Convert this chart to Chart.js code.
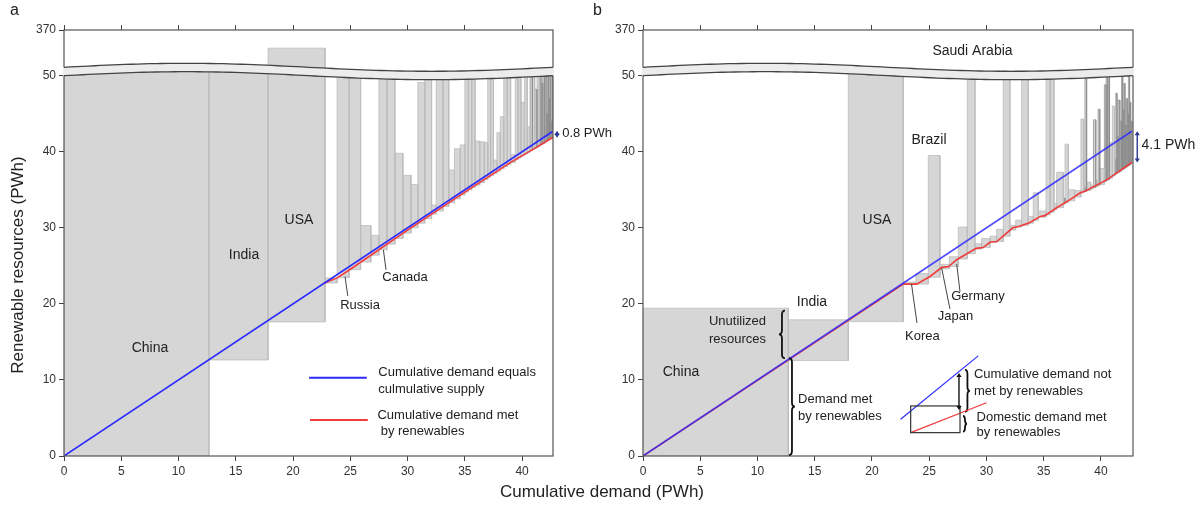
<!DOCTYPE html>
<html>
<head>
<meta charset="utf-8">
<script src="https://cdn.jsdelivr.net/npm/chart.js@4.4.1/dist/chart.umd.min.js"></script>
<style>
  body { margin: 0; background: #fff; width: 1204px; height: 505px; position: relative; overflow: hidden;
         font-family: Arial, "Liberation Sans", Helvetica, sans-serif; }
  .wrap { position: absolute; top: 0; height: 505px; }
  #wa { left: 0; width: 620px; }
  #wb { left: 600px; width: 604px; }
  .lbl { position: absolute; color: #222; white-space: nowrap; }
</style>
</head>
<body>
<div class="wrap" id="wa"><canvas id="chartA"></canvas></div>
<div class="wrap" id="wb"><canvas id="chartB"></canvas></div>
<div class="lbl" style="left:10px;top:1px;font-size:16px">a</div>
<div class="lbl" style="left:593px;top:1px;font-size:16px">b</div>
<div class="lbl" style="left:0;width:1204px;top:482px;text-align:center;font-size:17px">Cumulative demand (PWh)</div>

<script>
const FONT = 'Arial, "Liberation Sans", Helvetica, sans-serif';
const Y_MAX = 50.55;          // main panel top, the break sits just above 50
const TOP_MIN = 50, TOP_MAX = 370;
const BLUE = '#2b2bff', RED = '#f03c3c', ARROW = '#2b3990';

// ---------- panel a ----------
const aXMax = 42.7;
const aEdges = [0, 12.66, 17.82, 22.8, 23.85, 24.9, 25.9, 26.8, 27.5, 28.2, 28.9, 29.6, 30.3, 30.9, 31.5, 32.1,
  32.5, 33.1, 33.6, 34.1, 34.6, 35.0, 35.3, 35.6, 35.9, 36.3, 36.7, 37.0, 37.25, 37.5, 37.8, 38.1, 38.4, 38.7,
  39.0, 39.4, 39.65, 39.9, 40.2, 40.45, 40.7, 40.9, 41.1, 41.3, 41.5, 41.65, 41.8, 41.95, 42.1, 42.2, 42.3,
  42.4, 42.5, 42.6, 42.7];
const aBottoms = [0, 12.63, 17.63, 22.75, 23.45, 24.5, 25.5, 26.4, 27.1, 27.85, 28.6, 29.3, 30.0, 30.6, 31.2,
  31.8, 32.2, 32.8, 33.3, 33.8, 34.3, 34.7, 35.0, 35.3, 35.6, 35.95, 36.35, 36.65, 36.9, 37.15, 37.45, 37.75,
  38.05, 38.3, 38.6, 38.95, 39.2, 39.45, 39.7, 39.95, 40.15, 40.3, 40.5, 40.65, 40.85, 40.95, 41.1, 41.25,
  41.4, 41.5, 41.55, 41.65, 41.75, 41.85];
const aTops = [52, 52, 230, 23.4, 52, 52, 30.3, 29.0, 52, 52, 39.8, 36.9, 35.7, 49.1, 52, 33.0, 52, 52, 37.6,
  40.4, 40.9, 52, 52, 52, 41.4, 41.3, 41.2, 52, 52, 38.9, 42.5, 44.6, 52, 52, 39.6, 52, 52, 46.5, 52, 43.3,
  52, 52, 48.2, 52, 52, 49, 52, 52, 45, 52, 47, 52, 44, 52];
const aBlueX = [0, 42.7];
const aBlueY = [0, 42.7];
const aRedX = [22.7, 23.9, 25, 30, 35, 39, 41, 42.7];
const aRedY = [22.7, 23.45, 24.55, 29.7, 34.7, 38.6, 40.35, 41.9];

// ---------- panel b ----------
const bXMax = 42.8;
const bEdges = [0, 12.69, 17.93, 22.73, 23.84, 24.92, 25.94, 26.75, 27.54, 28.33, 29.0, 29.58, 30.31, 30.89,
  31.47, 32.05, 32.55, 33.07, 33.65, 34.09, 34.53, 35.2, 35.55, 35.9, 36.13, 36.71, 36.86, 37.15, 37.7, 38.25,
  38.5, 38.6, 38.75, 39.1, 39.35, 39.55, 39.75, 39.9, 40.3, 40.45, 40.6, 40.75, 41.0, 41.2, 41.3, 41.4, 41.5,
  41.65, 41.8, 41.9, 42.0, 42.1, 42.2, 42.3, 42.4, 42.5, 42.6, 42.7];
const bBottoms = [0, 12.54, 17.67, 22.6, 22.6, 23.5, 24.6, 24.9, 25.9, 26.6, 27.2, 27.4, 28.1, 28.2, 28.9, 29.7,
  30.1, 30.3, 30.6, 31.0, 31.4, 31.7, 32.05, 32.4, 32.65, 33.15, 33.3, 33.55, 34.05, 34.6, 34.75, 34.8, 34.9,
  35.1, 35.3, 35.45, 35.6, 35.7, 36.1, 36.25, 36.35, 36.5, 36.8, 37.0, 37.1, 37.2, 37.3, 37.45, 37.6, 37.7,
  37.8, 37.9, 38.0, 38.1, 38.2, 38.3, 38.45];
const bTops = [19.43, 17.9, 52, 22.85, 24.0, 39.5, 25.2, 26.2, 30.1, 52, 27.9, 28.6, 28.9, 29.8, 52, 30.3, 31.0,
  52, 31.5, 34.6, 32.2, 52, 52, 33.2, 37.3, 33.9, 41.0, 35.0, 34.9, 44.3, 35.3, 52, 36.0, 35.6, 44.2, 36.2,
  45.6, 37.8, 48.8, 52, 52, 41.2, 46.0, 39.0, 47.7, 42.0, 46.8, 44.0, 52, 45.5, 49.0, 43.5, 47.0, 45.0, 50.5,
  46.5, 44.0];
const bBlueX = [0, 42.7];
const bBlueY = [0, 42.7];
const bRedX = [0, 22.73, 23.9, 25.07, 26.1, 26.7, 27.4, 29.1, 29.7, 30.3, 30.9, 32.3, 32.9, 33.8, 34.7, 35.1,
  36.1, 37.3, 38.2, 38.6, 40.5, 42.7];
const bRedY = [0, 22.6, 22.6, 23.6, 24.8, 24.9, 25.8, 27.3, 27.4, 28.1, 28.2, 30.0, 30.2, 30.7, 31.5, 31.6,
  32.6, 33.7, 34.6, 34.8, 36.3, 38.6];

// ---------- helpers ----------
function rect(x0, x1, b, t) {
  return [{x: x0, y: b}, {x: x0, y: t}, {x: x1, y: t}, {x: x1, y: b}, {x: x0, y: b}];
}

function barSets(edges, bottoms, tops) {
  const out = [];
  for (let i = 0; i < tops.length; i++) {
    // narrow bars get a darker edge, like the dense strip on the right of the original
    const narrow = edges[i + 1] - edges[i] < 0.2;
    const style = {type: 'line', fill: 'shape', backgroundColor: '#d6d6d6',
                   borderColor: narrow ? '#8c8c8c' : '#bcbcbc',
                   borderWidth: narrow ? 0.7 : 0.8, pointRadius: 0, tension: 0};
    out.push(Object.assign({yAxisID: 'y', data: rect(edges[i], edges[i + 1], bottoms[i], Math.min(tops[i], Y_MAX))}, style));
    if (tops[i] > TOP_MIN) {
      out.push(Object.assign({yAxisID: 'yT', data: rect(edges[i], edges[i + 1], TOP_MIN, tops[i])}, style));
    }
  }
  return out;
}

function lineSet(xs, ys, color) {
  return {type: 'line', yAxisID: 'y', data: xs.map((x, i) => ({x: x, y: ys[i]})), borderColor: color,
          borderWidth: 1.6, pointRadius: 0, fill: false, tension: 0};
}

function P(chart, x, y, axis) {
  return [chart.scales.x.getPixelForValue(x), chart.scales[axis || 'y'].getPixelForValue(y)];
}

function label(ctx, s, x, y, size, align) {
  ctx.font = size + 'px ' + FONT;
  ctx.fillStyle = '#222';
  ctx.textAlign = align || 'center';
  ctx.textBaseline = 'middle';
  ctx.fillText(s, x, y);
}

function seg(ctx, x0, y0, x1, y1, color, w) {
  ctx.beginPath();
  ctx.moveTo(x0, y0);
  ctx.lineTo(x1, y1);
  ctx.strokeStyle = color;
  ctx.lineWidth = w;
  ctx.stroke();
}

function dblArrow(ctx, x, y0, y1, color) {
  seg(ctx, x, y0 + 2, x, y1 - 2, color, 1.4);
  ctx.fillStyle = color;
  ctx.beginPath();
  ctx.moveTo(x, y0); ctx.lineTo(x - 2.6, y0 + 4); ctx.lineTo(x + 2.6, y0 + 4); ctx.closePath(); ctx.fill();
  ctx.beginPath();
  ctx.moveTo(x, y1); ctx.lineTo(x - 2.6, y1 - 4); ctx.lineTo(x + 2.6, y1 - 4); ctx.closePath(); ctx.fill();
}

// vertical curly brace, ends at x, tip at x + d
function brace(ctx, x, y0, y1, d) {
  const m = (y0 + y1) / 2, q = Math.min(4, (y1 - y0) / 4), h = x + d / 2;
  ctx.beginPath();
  ctx.moveTo(x, y0);
  ctx.quadraticCurveTo(h, y0, h, y0 + q);
  ctx.lineTo(h, m - q);
  ctx.quadraticCurveTo(h, m, x + d, m);
  ctx.quadraticCurveTo(h, m, h, m + q);
  ctx.lineTo(h, y1 - q);
  ctx.quadraticCurveTo(h, y1, x, y1);
  ctx.strokeStyle = '#111';
  ctx.lineWidth = 1.8;
  ctx.stroke();
}

// frame + wavy axis break
function drawFrame(chart) {
  const {ctx, chartArea: a} = chart;
  ctx.save();
  ctx.strokeStyle = '#555';
  ctx.lineWidth = 1.2;
  ctx.strokeRect(a.left, a.top, a.right - a.left, a.bottom - a.top);
  const base = chart.scales.y.getPixelForValue(50);
  const gap = 8.4, N = 80;
  const L = a.left - 1, R = a.right + 1;
  const wave = t => -4 * Math.sin(2 * Math.PI * t);
  ctx.beginPath();
  for (let i = 0; i <= N; i++) {
    const t = i / N;
    ctx.lineTo(L + (R - L) * t, base - gap + wave(t));
  }
  for (let i = N; i >= 0; i--) {
    const t = i / N;
    ctx.lineTo(L + (R - L) * t, base + wave(t));
  }
  ctx.closePath();
  ctx.fillStyle = '#ececec';
  ctx.fill();
  for (const off of [-gap, 0]) {
    ctx.beginPath();
    for (let i = 0; i <= N; i++) {
      const t = i / N;
      ctx.lineTo(a.left + (a.right - a.left) * t, base + off + wave(t));
    }
    ctx.strokeStyle = '#444';
    ctx.lineWidth = 1.3;
    ctx.stroke();
  }
  ctx.restore();
}

function annotA(chart) {
  const ctx = chart.ctx;
  ctx.save();
  [['China', 7.51, 14.2, 14], ['India', 15.72, 26.45, 14], ['USA', 20.52, 31.05, 14],
   ['Russia', 25.85, 19.74, 13], ['Canada', 29.78, 23.42, 13]].forEach(l => {
    const p = P(chart, l[1], l[2]);
    label(ctx, l[0], p[0], p[1], l[3]);
  });
  [[24.54, 23.59, 24.78, 21.05], [27.89, 27.1, 28.12, 24.47]].forEach(s => {
    const p = P(chart, s[0], s[1]), q = P(chart, s[2], s[3]);
    seg(ctx, p[0], p[1], q[0], q[1], '#444', 1);
  });
  let p = P(chart, 43.05, 42.75), q = P(chart, 43.05, 41.85);
  dblArrow(ctx, p[0], p[1], q[1], ARROW);
  p = P(chart, 43.5, 42.35);
  label(ctx, '0.8 PWh', p[0], p[1], 13, 'left');
  // legend
  p = P(chart, 21.4, 10.3); q = P(chart, 26.44, 10.3);
  seg(ctx, p[0], p[1], q[0], q[1], BLUE, 2);
  p = P(chart, 21.48, 4.74); q = P(chart, 26.53, 4.74);
  seg(ctx, p[0], p[1], q[0], q[1], RED, 2);
  [['Cumulative demand equals', 27.45, 10.95], ['culmulative supply', 27.45, 8.75],
   ['Cumulative demand met', 27.37, 5.39], ['by renewables', 27.65, 3.29]].forEach(l => {
    const r = P(chart, l[1], l[2]);
    label(ctx, l[0], r[0], r[1], 13, 'left');
  });
  // y title
  ctx.translate(18, 265);
  ctx.rotate(-Math.PI / 2);
  label(ctx, 'Renewable resources (PWh)', 0, 0, 17);
  ctx.restore();
}

function annotB(chart) {
  const ctx = chart.ctx;
  ctx.save();
  [['China', 3.32, 11.05, 14], ['India', 14.76, 20.26, 14], ['USA', 20.44, 31.05, 14], ['Brazil', 24.98, 41.58, 14],
   ['Korea', 24.41, 15.66, 13], ['Japan', 27.29, 18.29, 13], ['Germany', 29.26, 20.92, 13]].forEach(l => {
    const p = P(chart, l[1], l[2]);
    label(ctx, l[0], p[0], p[1], l[3]);
  });
  let p = P(chart, 28.78, 210, 'yT');
  label(ctx, 'Saudi Arabia', p[0], p[1], 14);
  [[23.45, 22.63, 23.93, 17.5], [26.09, 24.7, 26.81, 19.34], [27.4, 25.26, 27.69, 21.58]].forEach(s => {
    const a = P(chart, s[0], s[1]), b = P(chart, s[2], s[3]);
    seg(ctx, a[0], a[1], b[0], b[1], '#444', 1);
  });
  [['Unutilized', 5.76, 17.67], ['resources', 5.76, 15.36], ['Demand met', 13.54, 7.46], ['by renewables', 13.54, 5.17],
   ['Cumulative demand not', 28.91, 10.66], ['met by renewables', 28.91, 8.46],
   ['Domestic demand met', 29.14, 5.13], ['by renewables', 29.14, 3.16]].forEach(l => {
    const r = P(chart, l[1], l[2]);
    label(ctx, l[0], r[0], r[1], 13, 'left');
  });
  [[12.4, 19.12, 12.86, -6], [12.75, 12.86, 0.13, 6], [28.12, 11.32, 5.83, 5], [27.95, 5.26, 3.2, 4]].forEach(b => {
    const a = P(chart, b[0], b[1]), c = P(chart, b[0], b[2]);
    brace(ctx, a[0], a[1], c[1], b[3]);
  });
  // schematic inset
  let a = P(chart, 22.5, 4.83), c = P(chart, 29.28, 13.16);
  seg(ctx, a[0], a[1], c[0], c[1], BLUE, 1.2);
  a = P(chart, 23.38, 3.07); c = P(chart, 30.0, 7.0);
  seg(ctx, a[0], a[1], c[0], c[1], RED, 1.2);
  a = P(chart, 23.38, 6.58); c = P(chart, 27.69, 3.07);
  ctx.strokeStyle = '#333';
  ctx.lineWidth = 1.2;
  ctx.strokeRect(a[0], a[1], c[0] - a[0], c[1] - a[1]);
  a = P(chart, 27.6, 10.92); c = P(chart, 27.6, 6.05);
  dblArrow(ctx, a[0], a[1], c[1], '#111');
  a = P(chart, 43.17, 42.7); c = P(chart, 43.17, 38.6);
  dblArrow(ctx, a[0], a[1], c[1], ARROW);
  p = P(chart, 43.55, 40.9);
  label(ctx, '4.1 PWh', p[0], p[1], 14, 'left');
  ctx.restore();
}

function makePanel(id, xMax, leftW, rightPad, datasets, annot) {
  const tickFont = {family: FONT, size: 12};
  const grid = {drawOnChartArea: false, drawTicks: true, tickLength: 5, color: '#444', lineWidth: 1};
  return new Chart(document.getElementById(id), {
    type: 'line',
    data: {datasets: datasets},
    options: {
      responsive: true, maintainAspectRatio: false, animation: false, events: [],
      devicePixelRatio: 1,
      layout: {padding: {left: 0, right: rightPad, top: 0, bottom: 0}},
      plugins: {legend: {display: false}, tooltip: {enabled: false}},
      scales: {
        x: {type: 'linear', position: 'bottom', min: 0, max: xMax,
            ticks: {stepSize: 5, includeBounds: false, color: '#333', font: tickFont, padding: 3, maxRotation: 0},
            grid: grid, border: {display: false},
            afterFit: s => { s.height = 49; }},
        x2: {type: 'linear', position: 'top', min: 0, max: xMax,
             ticks: {stepSize: 5, includeBounds: false, display: false},
             grid: grid, border: {display: false},
             afterFit: s => { s.height = 30; }},
        y: {type: 'linear', position: 'left', min: 0, max: Y_MAX, stack: 'v', stackWeight: 384.5,
            ticks: {stepSize: 10, includeBounds: false, color: '#333', font: tickFont, padding: 3},
            grid: grid, border: {display: false},
            afterFit: s => { s.width = leftW; }},
        yT: {type: 'linear', position: 'left', min: TOP_MIN, max: TOP_MAX, stack: 'v', stackWeight: 41.5,
             ticks: {color: '#333', font: tickFont, padding: 3},
             afterBuildTicks: s => { s.ticks = [{value: TOP_MAX}]; },
             grid: grid, border: {display: false},
             afterFit: s => { s.width = leftW; }}
      }
    },
    plugins: [{id: 'deco', afterDraw: c => { drawFrame(c); annot(c); }}]
  });
}

makePanel('chartA', aXMax, 64, 67,
  [lineSet(aBlueX, aBlueY, BLUE), lineSet(aRedX, aRedY, RED)].concat(barSets(aEdges, aBottoms, aTops)), annotA);
makePanel('chartB', bXMax, 43, 71,
  [lineSet(bBlueX, bBlueY, 'rgba(43,43,255,0.85)'), lineSet(bRedX, bRedY, RED)].concat(barSets(bEdges, bBottoms, bTops)), annotB);
</script>
</body>
</html>
